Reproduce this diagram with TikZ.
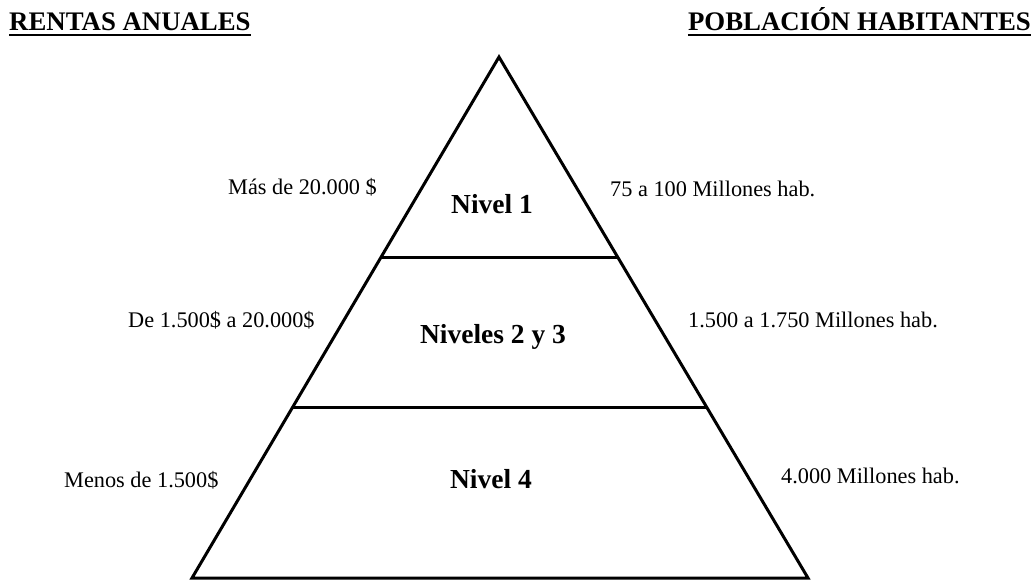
\documentclass[tikz,border=0pt]{standalone}
\usepackage{fontspec}
\setmainfont{Liberation Serif}
\usetikzlibrary{calc}
\begin{document}
\begin{tikzpicture}[x=1pt,y=-1pt,
  edge/.style={line width=3pt,line join=miter},
  label/.style={inner sep=0pt,anchor=base west,font=\fontsize{22.3}{25}\selectfont},
  level/.style={inner sep=0pt,anchor=base,font=\fontsize{27.5}{30}\selectfont\bfseries},
  heading/.style={inner sep=0pt,anchor=base west,font=\fontsize{26.8}{30}\selectfont\bfseries},
  rule/.style={line width=2pt}]
  \useasboundingbox (0,0) rectangle (1036,581);

  % pyramid outline
  \coordinate (apex) at (499,57);
  \coordinate (bl) at (192,578);
  \coordinate (br) at (808,578);
  \draw[edge] (bl) -- (apex) -- (br) -- cycle;

  % dividing lines between the levels
  \coordinate (l1) at ($(apex)!0.3839!(bl)$);
  \coordinate (r1) at ($(apex)!0.3839!(br)$);
  \coordinate (l2) at ($(apex)!0.6718!(bl)$);
  \coordinate (r2) at ($(apex)!0.6718!(br)$);
  \draw[edge] (l1) -- (r1);
  \draw[edge] (l2) -- (r2);

  % column headings
  \node[heading] (hleft) at (9,30) {RENTAS ANUALES};
  \node[heading,anchor=base east] (hright) at (1031,30) {POBLACIÓN HABITANTES};
  \draw[rule] ([yshift=-5pt]hleft.base west) -- ([yshift=-5pt]hleft.base east);
  \draw[rule] ([yshift=-5pt]hright.base west) -- ([yshift=-5pt]hright.base east);

  % level names
  \node[level] (n1) at (492,213) {Nivel 1};
  \node[level] (n23) at (493,343) {Niveles 2 y 3};
  \node[level] (n4) at (491,488) {Nivel 4};

  % annual income
  \node[label] (i1) at (228,194) {Más de 20.000 \$};
  \node[label] (i2) at (128,327) {De 1.500\$ a 20.000\$};
  \node[label] (i3) at (64,487) {Menos de 1.500\$};

  % population
  \node[label] (p1) at (610,196) {75 a 100 Millones hab.};
  \node[label] (p2) at (688,327) {1.500 a 1.750 Millones hab.};
  \node[label] (p3) at (781,483) {4.000 Millones hab.};
\end{tikzpicture}
\end{document}
